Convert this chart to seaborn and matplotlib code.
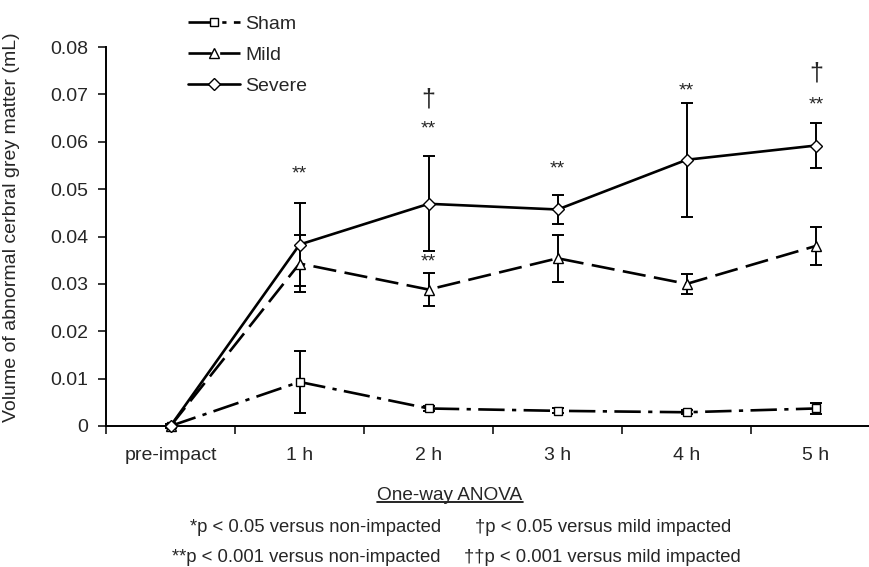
import numpy as np
import pandas as pd
import matplotlib
matplotlib.use('Agg')
import matplotlib.pyplot as plt
import seaborn as sns
from matplotlib.lines import Line2D

sns.set_style('white')
plt.rcParams['font.family'] = ['Liberation Sans', 'DejaVu Sans']
plt.rcParams['font.size'] = 14

# data (mL)
timepoints = ['pre-impact', '1 h', '2 h', '3 h', '4 h', '5 h']
sham_mean = [0.0, 0.0093, 0.0037, 0.0032, 0.0029, 0.0037]
sham_err = [0.0005, 0.0065, 0.0005, 0.0005, 0.0004, 0.0012]
mild_mean = [0.0, 0.0343, 0.0288, 0.0354, 0.0300, 0.0380]
mild_err = [0.0, 0.0060, 0.0034, 0.0050, 0.0021, 0.0041]
severe_mean = [0.0, 0.0383, 0.0469, 0.0457, 0.0562, 0.0592]
severe_err = [0.0, 0.0087, 0.0100, 0.0030, 0.0120, 0.0047]

# significance marks
sig_time = ['1 h', '2 h', '2 h', '2 h', '3 h', '4 h', '5 h', '5 h']
sig_height = [0.0532, 0.0627, 0.0690, 0.0347, 0.0542, 0.0707, 0.0677, 0.0745]
sig_text = ['**', '**', '\u2020', '**', '**', '**', '**', '\u2020']

yticks = [0, 0.01, 0.02, 0.03, 0.04, 0.05, 0.06, 0.07, 0.08]
ytick_labels = ['0', '0.01', '0.02', '0.03', '0.04', '0.05', '0.06', '0.07', '0.08']

x = np.arange(len(timepoints))
df = pd.DataFrame({'x': x, 'Sham': sham_mean, 'Mild': mild_mean, 'Severe': severe_mean})

fig = plt.figure(figsize=(8.7, 5.67), dpi=100)
ax = fig.add_axes([106 / 870, 1 - 426 / 567, 764 / 870, 379 / 567])

series = [
    ('Sham', sham_mean, sham_err, 's', (0, (10, 2.8, 1.6, 2.8)), 6),
    ('Mild', mild_mean, mild_err, '^', (0, (8.8, 3.2)), 7),
    ('Severe', severe_mean, severe_err, 'D', '-', 6),
]

for name, mean, err, mk, ls, ms in series:
    ax.errorbar(x, mean, yerr=err, fmt='none', ecolor='black', elinewidth=1.4,
                capsize=4, capthick=1.4, clip_on=False, zorder=2)
    sns.lineplot(data=df, x='x', y=name, ax=ax, color='black', marker=mk,
                 markersize=ms, markerfacecolor='white', markeredgecolor='black',
                 markeredgewidth=1.0, linewidth=1.9, linestyle=ls, label=name,
                 errorbar=None, clip_on=False, zorder=3)

for t, h, s in zip(sig_time, sig_height, sig_text):
    xi = timepoints.index(t)
    if s == '\u2020':
        ax.text(xi, h, s, ha='center', va='center', fontsize=18)
    else:
        ax.text(xi, h, s, ha='center', va='center', fontsize=14)

ax.set_xlim(-0.5, 5.42)
ax.set_ylim(0, 0.08)
ax.set_yticks(yticks)
ax.set_yticklabels(ytick_labels)
ax.set_xticks(np.arange(-0.5, 5.5, 1.0))
ax.set_xticklabels([])
ax.set_xticks(x, minor=True)
ax.set_xticklabels(timepoints, minor=True)
ax.tick_params(axis='x', which='major', direction='out', length=6, width=1.3, bottom=True)
ax.tick_params(axis='x', which='minor', length=0, pad=15, labelsize=14)
ax.tick_params(axis='y', direction='out', length=6, width=1.3, left=True, pad=7, labelsize=14)
ax.set_xlabel('')
ax.set_ylabel('Volume of abnormal cerbral grey matter (mL)', fontsize=14)
ax.yaxis.set_label_coords(-0.113, 0.525)

for side in ['top', 'right']:
    ax.spines[side].set_visible(False)
for side in ['left', 'bottom']:
    ax.spines[side].set_color('black')
    ax.spines[side].set_linewidth(1.4)

ax.legend(loc='upper left', bbox_to_anchor=(188 / 870, 1 - 15 / 567),
          bbox_transform=fig.transFigure, frameon=False, fontsize=14,
          handlelength=2.7, handletextpad=0.25, labelspacing=0.7,
          borderpad=0, borderaxespad=0, numpoints=1)

# footnote
title = fig.text(450 / 870, 1 - 495 / 567, 'One-way ANOVA', ha='center', va='center', fontsize=13.7)
fig.text(441 / 870, 1 - 528 / 567, '*p < 0.05 versus non-impacted', ha='right', va='center', fontsize=13.3)
fig.text(475 / 870, 1 - 528 / 567, '\u2020p < 0.05 versus mild impacted', ha='left', va='center', fontsize=13.3)
fig.text(441 / 870, 1 - 557 / 567, '**p < 0.001 versus non-impacted', ha='right', va='center', fontsize=13.3)
fig.text(464 / 870, 1 - 557 / 567, '\u2020\u2020p < 0.001 versus mild impacted', ha='left', va='center', fontsize=13.3)

fig.canvas.draw()
bb = title.get_window_extent().transformed(fig.transFigure.inverted())
fig.add_artist(Line2D([bb.x0, bb.x1], [bb.y0 + 0.002, bb.y0 + 0.002],
                      transform=fig.transFigure, color='black', lw=1.2))

plt.savefig('out.png', dpi=100)
plt.close()
